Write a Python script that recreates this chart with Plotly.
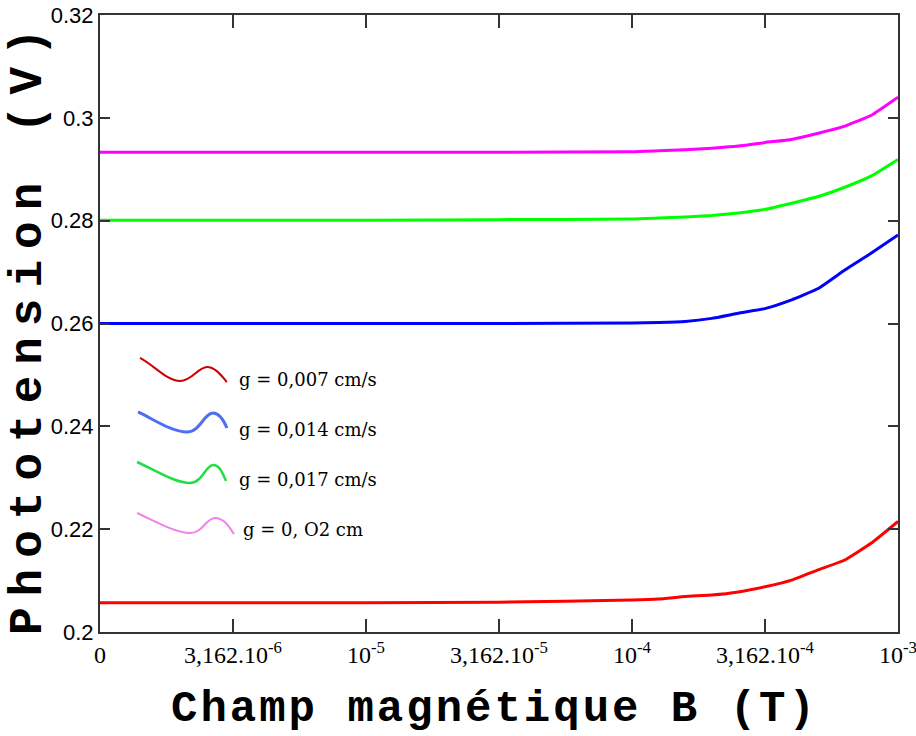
import plotly.graph_objects as go

# Magnetic field B (T), log-spaced samples
B_TESLA = [1e-6, 3.162e-6, 1e-5, 3.162e-5, 1e-4, 1.259e-4, 1.585e-4, 1.995e-4,
           2.512e-4, 3.162e-4, 3.981e-4, 5.012e-4, 6.310e-4, 7.943e-4, 1e-3]

# Photovoltage (V) for each recombination velocity g
V_G0007 = [0.2057, 0.2057, 0.2057, 0.2058, 0.2062, 0.2064, 0.2069, 0.2072,
           0.2078, 0.2088, 0.2101, 0.2121, 0.2140, 0.2173, 0.2215]
V_G0014 = [0.2600, 0.2600, 0.2600, 0.2600, 0.2601, 0.2602, 0.2604, 0.2610,
           0.2620, 0.2629, 0.2646, 0.2668, 0.2704, 0.2737, 0.2772]
V_G0017 = [0.2801, 0.2801, 0.2801, 0.2802, 0.2803, 0.2805, 0.2807, 0.2810,
           0.2815, 0.2822, 0.2834, 0.2847, 0.2865, 0.2887, 0.2919]
V_G002 = [0.2933, 0.2933, 0.2933, 0.2933, 0.2934, 0.2936, 0.2938, 0.2941,
          0.2945, 0.2952, 0.2958, 0.2970, 0.2984, 0.3005, 0.3040]

SERIES_LABELS = ["g = 0,007 cm/s", "g = 0,014 cm/s", "g = 0,017 cm/s", "g = 0, O2 cm"]

X_TICKS = [1e-6, 3.162e-6, 1e-5, 3.162e-5, 1e-4, 3.162e-4, 1e-3]
X_TICKTEXT = ["0", "3,162.10<sup>-6</sup>", "10<sup>-5</sup>", "3,162.10<sup>-5</sup>",
              "10<sup>-4</sup>", "3,162.10<sup>-4</sup>", "10<sup>-3</sup>"]
Y_TICKS = [0.2, 0.22, 0.24, 0.26, 0.28, 0.3, 0.32]
Y_TICKTEXT = ["0.2", "0.22", "0.24", "0.26", "0.28", "0.3", "0.32"]

W, H = 916, 736
ML, MR, MT, MB = 100, 18, 15, 104
PW, PH = W - ML - MR, H - MT - MB


def px(x):
    return (x - ML) / PW


def py(y):
    return (H - MB - y) / PH


def wave_path(pts):
    # cubic Bezier wave for the hand-drawn legend keys (pixel -> paper)
    p = [(px(a), py(b)) for a, b in pts]
    s = "M %.4f,%.4f" % p[0]
    for i in range(1, len(p), 3):
        s += " C " + " ".join("%.4f,%.4f" % q for q in p[i:i + 3])
    return s


fig = go.Figure()
line_colors = ["#ff0000", "#0000ff", "#00ff00", "#ff00ff"]
for vals, col, lab in zip([V_G0007, V_G0014, V_G0017, V_G002], line_colors, SERIES_LABELS):
    fig.add_trace(go.Scatter(x=B_TESLA, y=vals, mode="lines", name=lab, showlegend=False,
                             line=dict(color=col, width=3, shape="spline", smoothing=0.4)))

key_colors = ["#cc0000", "#4f6ff0", "#22dd44", "#ee82ee"]
key_widths = [2, 3, 2.5, 2]
key_waves = [
    [(140, 358), (155, 366), (167, 381), (180, 381), (192, 381), (198, 367), (207, 367), (215, 367), (221, 375), (227, 382)],
    [(138, 412), (155, 420), (172, 432), (187, 432), (200, 432), (204, 413), (213, 413), (220, 413), (224, 421), (227, 428)],
    [(137, 462), (155, 470), (175, 483), (190, 483), (202, 483), (206, 465), (213, 465), (220, 465), (223, 474), (226, 481)],
    [(137, 513), (155, 521), (175, 533), (190, 533), (203, 533), (206, 518), (215, 518), (224, 518), (229, 527), (234, 534)],
]
key_text_pos = [(237, 379), (237, 429), (237, 479), (241, 529)]

shapes = []
annotations = []
for pts, col, wd, lab, (tx, ty) in zip(key_waves, key_colors, key_widths, SERIES_LABELS, key_text_pos):
    shapes.append(dict(type="path", xref="paper", yref="paper", path=wave_path(pts),
                       line=dict(color=col, width=wd)))
    annotations.append(dict(text=lab, xref="paper", yref="paper", x=px(tx), y=py(ty),
                            xanchor="left", yanchor="middle", showarrow=False,
                            font=dict(family="DejaVu Serif", size=18, color="black")))

title_font = dict(family="Courier New, Liberation Mono, monospace", color="black", weight="bold")
annotations.append(dict(text='<span style="letter-spacing:3px">Champ magnétique B (T)</span>',
                        xref="paper", yref="paper",
                        x=px(494), y=py(709), xanchor="center", yanchor="middle", showarrow=False,
                        font=dict(size=44, **title_font)))
annotations.append(dict(text='<span style="letter-spacing:11px">Phototension (V)</span>',
                        xref="paper", yref="paper",
                        x=px(29), y=py(326), xanchor="center", yanchor="middle", showarrow=False,
                        textangle=-90, font=dict(size=46, **title_font)))

axis_common = dict(showline=True, linewidth=2, linecolor="#333333", mirror="ticks",
                   ticks="inside", tickwidth=2, tickcolor="#333333",
                   showgrid=False, zeroline=False, automargin=False,
                   ticklabeloverflow="allow")

fig.update_layout(
    width=W, height=H,
    margin=dict(l=ML, r=MR, t=MT, b=MB),
    paper_bgcolor="white", plot_bgcolor="white",
    xaxis=dict(type="log", range=[-6, -3], tickvals=X_TICKS, ticktext=X_TICKTEXT, ticklen=13,
               tickfont=dict(family="Liberation Serif, Times New Roman, serif", size=24, color="black"),
               **axis_common),
    yaxis=dict(range=[0.2, 0.32], tickvals=Y_TICKS, ticktext=Y_TICKTEXT, ticklen=10,
               tickfont=dict(family="Liberation Sans Narrow, Arial Narrow, Liberation Sans", size=22,
                             color="black"),
               **axis_common),
    shapes=shapes,
    annotations=annotations,
    showlegend=False,
)

fig.write_html("out.html")
